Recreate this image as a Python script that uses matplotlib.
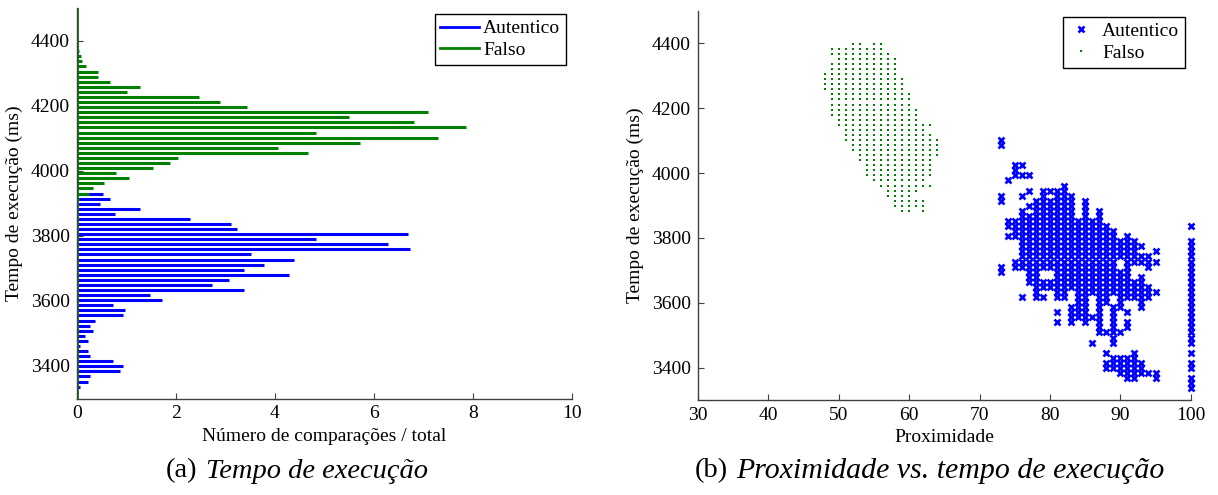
# ======================================
# Tempo de execucao: histograma + dispersao
# ======================================

import numpy as np
import matplotlib

matplotlib.use("Agg")

import matplotlib.pyplot as plt
from matplotlib.lines import Line2D


# ======================================
# DATA
# ======================================

# timer resolution: each row is one tick of 15.625 ms counted down from 4399 ms
T0 = 4399.0
TICK = 15.625

# histogram rows 1..68 (top to bottom), values = comparisons / total (%)
hist_rows = list(range(1, 69))

hist_autentico = [0] * 29 + [
    0.52, 0.66, 0.47, 1.27, 0.77, 2.28, 3.12, 3.23, 6.69, 4.83,
    6.28, 6.73, 3.52, 4.38, 3.78, 3.38, 4.28, 3.08, 2.73, 3.37,
    1.47, 1.72, 0.72, 0.97, 0.92, 0.37, 0.27, 0.32, 0.17, 0.22,
    0.07, 0.22, 0.27, 0.72, 0.92, 0.87, 0.27, 0.22, 0.07,
]

hist_falso = [
    0.03, 0.05, 0.09, 0.11, 0.18, 0.42, 0.42, 0.67, 1.27, 1.02,
    2.46, 2.89, 3.43, 7.09, 5.50, 6.80, 7.86, 4.82, 7.29, 5.72,
    4.06, 4.66, 2.04, 1.87, 1.53, 0.78, 1.06, 0.55, 0.32, 0.24,
    0.05, 0.03,
] + [0] * 36

# scatter "Falso": one entry per time row (row 0 = top), runs of proximity
falso_rows = [
    [(52, 53), (55, 56)],
    [(49, 56)], [(49, 57)], [(50, 58)], [(49, 58)], [(49, 58)],
    [(48, 58)], [(48, 59)], [(48, 59)], [(48, 59)], [(49, 60)],
    [(49, 60)], [(49, 60)], [(49, 61)], [(49, 61)], [(50, 61)],
    [(50, 63)], [(51, 62)], [(51, 63)], [(51, 64)], [(52, 64)],
    [(52, 64)], [(53, 64)], [(53, 63)], [(54, 63)], [(54, 63)],
    [(54, 63)], [(55, 62)], [(56, 63)], [(57, 61)], [(57, 60)],
    [(58, 62)], [(58, 62)],
    [(59, 60), (62, 62)],
]

# scatter "Autentico": one entry per proximity, runs of time rows
autentico_prox = [73, 74, 75, 76, 77, 78, 79, 80, 81, 82, 83, 84,
                  85, 86, 87, 88, 89, 90, 91, 92, 93, 94, 95, 100]

autentico_runs = [
    [(19, 20), (30, 31), (44, 45)],
    [(27, 27), (35, 36), (38, 38)],
    [(24, 26), (35, 38), (43, 44)],
    [(24, 24), (26, 26), (30, 30), (33, 44), (50, 50)],
    [(26, 26), (29, 29), (32, 32), (34, 47)],
    [(31, 50)],
    [(29, 44), (47, 48), (50, 50)],
    [(29, 29), (31, 44), (47, 48)],
    [(29, 50), (53, 53), (55, 55)],
    [(28, 50)],
    [(30, 48), (52, 55)],
    [(35, 54)],
    [(31, 55)],
    [(35, 49), (54, 54), (59, 59)],
    [(33, 57)],
    [(36, 51), (57, 57), (61, 61), (63, 64)],
    [(37, 49), (52, 59), (62, 64)],
    [(39, 42), (45, 52), (57, 57), (62, 65)],
    [(38, 50), (53, 53), (55, 56), (62, 66)],
    [(39, 43), (47, 50), (61, 66)],
    [(40, 40), (42, 43), (46, 52), (63, 65)],
    [(42, 44), (48, 50), (65, 65)],
    [(41, 41), (43, 43), (49, 49), (65, 66)],
    [(36, 36), (39, 59), (61, 61), (63, 64), (66, 68)],
]


# ======================================
# EXPAND RUNS INTO POINTS
# ======================================

def row_to_ms(r):
    return T0 - r * TICK


falso_x, falso_y = [], []
for r, runs in enumerate(falso_rows):
    for a, b in runs:
        for p in range(a, b + 1):
            falso_x.append(p)
            falso_y.append(row_to_ms(r))

aut_x, aut_y = [], []
for p, runs in zip(autentico_prox, autentico_runs):
    for a, b in runs:
        for r in range(a, b + 1):
            aut_x.append(p)
            aut_y.append(row_to_ms(r))

hist_t = [row_to_ms(r) for r in hist_rows]


# ======================================
# STYLE
# ======================================

BLUE = (0, 0, 1)
GREEN = (0, 0.5, 0)
AXCOL = "#404040"
FONT = "Liberation Serif"

plt.rcParams["font.family"] = FONT
plt.rcParams["font.size"] = 14

W, H = 1218, 495
fig = plt.figure(figsize=(W / 100, H / 100), dpi=100)


def style_axes(ax):
    for s in ["top", "right"]:
        ax.spines[s].set_visible(False)
    for s in ["left", "bottom"]:
        ax.spines[s].set_color(AXCOL)
        ax.spines[s].set_linewidth(1.0)
    ax.tick_params(direction="in", length=4, width=0.8, color=AXCOL,
                   labelsize=14, pad=5)


# ======================================
# (a) HISTOGRAM
# ======================================

ax1 = fig.add_axes([77 / W, 1 - 398.5 / H, 495 / W, 390.3 / H])

ax1.hlines(hist_t, 0, hist_autentico, colors=[BLUE], linewidth=2.2)
ax1.hlines(hist_t, 0, hist_falso, colors=[GREEN], linewidth=2.2)
ax1.axvline(0, color=GREEN, linewidth=2)

ax1.set_xlim(0, 10)
ax1.set_ylim(3300, 4500)
ax1.set_xticks(range(0, 11, 2))
ax1.set_yticks(range(3400, 4401, 200))
ax1.set_xlabel("Número de comparações / total", labelpad=4)
ax1.set_ylabel("Tempo de execução (ms)", labelpad=6)
style_axes(ax1)

leg1 = ax1.legend(
    handles=[Line2D([], [], color=BLUE, lw=2), Line2D([], [], color=GREEN, lw=2)],
    labels=["Autentico", "Falso"],
    loc="upper right", fancybox=False, edgecolor="black", framealpha=1,
    handlelength=2.0, handletextpad=0.2, borderpad=0.3, labelspacing=0.2,
    borderaxespad=0.3, fontsize=14,
)
leg1.get_frame().set_linewidth(1.0)


# ======================================
# (b) SCATTER
# ======================================

ax2 = fig.add_axes([698 / W, 1 - 400 / H, 492.7 / W, 389 / H])

ax2.plot(aut_x, aut_y, "x", color=BLUE, markersize=4.4, markeredgewidth=1.9,
         clip_on=False, label="Autentico")
ax2.plot(falso_x, falso_y, "s", color=GREEN, markersize=1.9, markeredgewidth=0,
         clip_on=False, label="Falso")

ax2.set_xlim(30, 100)
ax2.set_ylim(3300, 4500)
ax2.set_xticks(range(30, 101, 10))
ax2.set_yticks(range(3400, 4401, 200))
ax2.set_xlabel("Proximidade", labelpad=4)
ax2.set_ylabel("Tempo de execução (ms)", labelpad=6)
style_axes(ax2)

leg2 = ax2.legend(
    handles=[
        Line2D([], [], ls="none", marker="x", color=BLUE, ms=4.4, mew=1.9),
        Line2D([], [], ls="none", marker="s", color=GREEN, ms=1.9, mew=0),
    ],
    labels=["Autentico", "Falso"],
    loc="upper right", fancybox=False, edgecolor="black", framealpha=1,
    handlelength=1.2, handletextpad=0.5, borderpad=0.3, labelspacing=0.2,
    borderaxespad=0.3, fontsize=14,
)
leg2.get_frame().set_linewidth(1.0)


# ======================================
# CAPTIONS
# ======================================

cy = 1 - 471 / H
fig.text(197 / W, cy, "(a)", ha="right", va="center", fontsize=20.5)
fig.text(206 / W, cy, "Tempo de execução", ha="left", va="center",
         fontsize=20.5, style="italic")
fig.text(728 / W, cy, "(b)", ha="right", va="center", fontsize=20.5)
fig.text(736 / W, cy, "Proximidade vs. tempo de execução", ha="left",
         va="center", fontsize=21.5, style="italic")

fig.savefig("out.png", dpi=100)
